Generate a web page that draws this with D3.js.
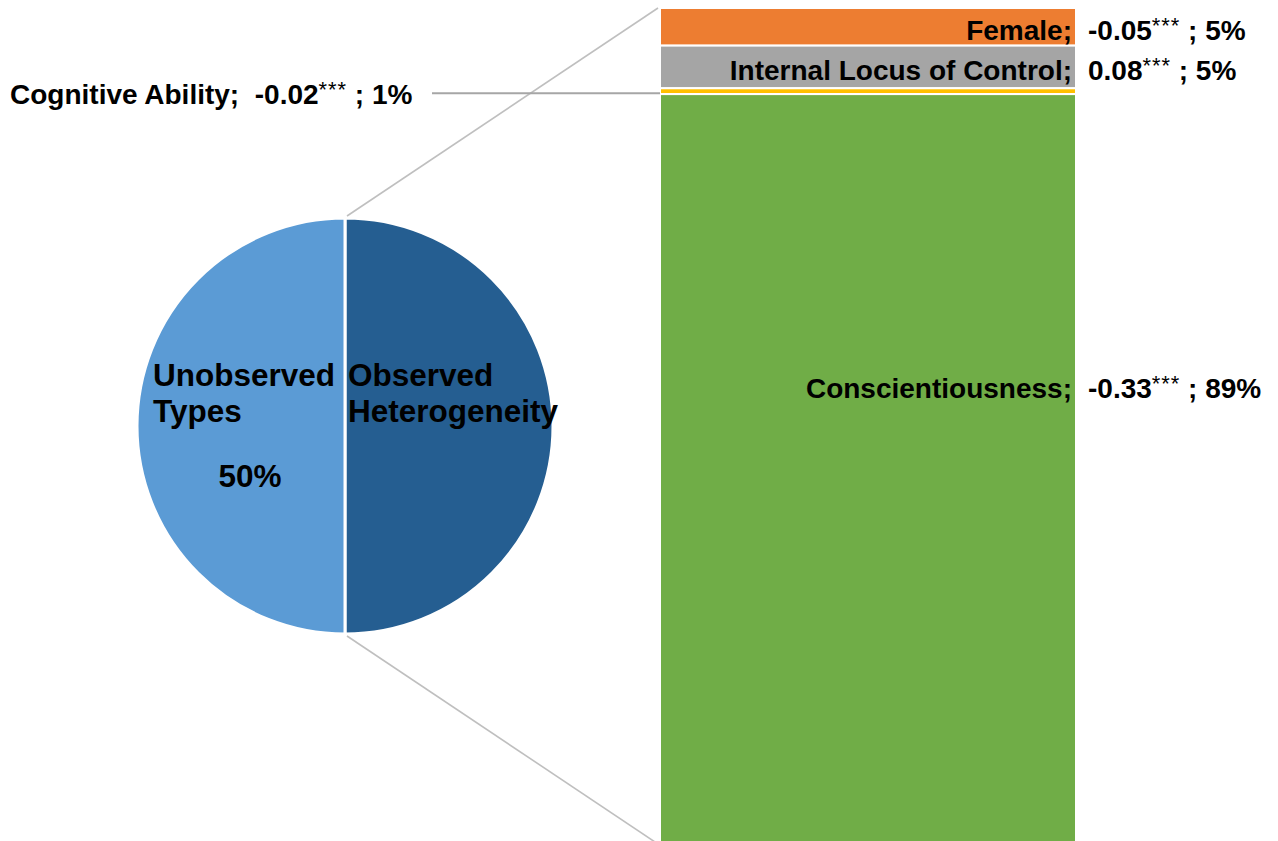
<!DOCTYPE html>
<html>
<head>
<meta charset="utf-8">
<script src="https://cdn.jsdelivr.net/npm/d3@7"></script>
<style>
  html, body { margin: 0; padding: 0; background: #fff; }
  svg { display: block; }
  text { font-family: "Liberation Sans", Arial, sans-serif; font-weight: bold; fill: #000; white-space: pre; }
</style>
</head>
<body>
<svg id="chart" width="1278" height="841"></svg>
<script>
// ---- data ----
const pieCategories = ["Observed Heterogeneity", "Unobserved Types"];
const pieValues = [50, 50];
const pieLabelLines = [["Observed", "Heterogeneity"], ["Unobserved", "Types"]];
const piePercentLabels = ["", "50%"];

const barCategories = ["Female", "Internal Locus of Control", "Cognitive Ability", "Conscientiousness"];
const barShares = [4.5, 5.1, 0.7, 89.7];           // share of observed heterogeneity (bar heights)
const barCoefs = ["-0.05", "0.08", "-0.02", "-0.33"];
const barStars = ["***", "***", "***", "***"];
const barPctLabels = ["5%", "5%", "1%", "89%"];

// ---- style / layout ----
const pieColors = ["#255E91", "#5B9BD5"];
const barColors = ["#ED7D31", "#A5A5A5", "#FFC000", "#70AD47"];
const cx = 345, cy = 426, R = 208;
const barX0 = 660, barX1 = 1076, barTop = 8, barBottom = 844;

const svg = d3.select("#chart");

// ---- pie ----
const pie = d3.pie().sort(null).startAngle(0).endAngle(2 * Math.PI);
const arcs = pie(pieValues);
const arc = d3.arc().innerRadius(0).outerRadius(R);
const gPie = svg.append("g").attr("transform", `translate(${cx},${cy})`);
gPie.selectAll("path").data(arcs).join("path")
  .attr("d", arc)
  .attr("fill", (d, i) => pieColors[i])
  .attr("stroke", "#fff")
  .attr("stroke-width", 3);

// ---- bar scale ----
const y = d3.scaleLinear().domain([0, d3.sum(barShares)]).range([barTop, barBottom]);
const cum = [];
barShares.reduce((acc, v, i) => { cum[i] = acc; return acc + v; }, 0);

// connector lines from pie (top/bottom of split) to bar
const conn = svg.append("g").attr("stroke", "#BFBFBF").attr("stroke-width", 1.6).attr("fill", "none");
conn.append("line").attr("x1", cx + 2).attr("y1", cy - R - 2).attr("x2", barX0 - 2).attr("y2", y(0));
conn.append("line").attr("x1", cx + 2).attr("y1", cy + R + 2).attr("x2", barX0 - 2).attr("y2", y(d3.sum(barShares)));

// bars
svg.append("g").selectAll("rect").data(barShares).join("rect")
  .attr("x", barX0)
  .attr("width", barX1 - barX0)
  .attr("y", (d, i) => y(cum[i]))
  .attr("height", (d, i) => y(cum[i] + d) - y(cum[i]))
  .attr("fill", (d, i) => barColors[i])
  .attr("stroke", "#fff")
  .attr("stroke-width", 2);

// ---- pie labels ----
const fsPie = 31.5;
const tObs = svg.append("text").attr("font-size", fsPie).attr("x", cx + 3).attr("y", cy - 40);
pieLabelLines[0].forEach((s, k) => tObs.append("tspan").attr("x", cx + 3).attr("dy", k === 0 ? 0 : 36).text(s));
const tUn = svg.append("text").attr("font-size", fsPie).attr("x", cx - 192).attr("y", cy - 40);
pieLabelLines[1].forEach((s, k) => tUn.append("tspan").attr("x", cx - 192).attr("dy", k === 0 ? 0 : 36).text(s));
svg.append("text").attr("font-size", fsPie).attr("text-anchor", "middle")
  .attr("x", cx - 95).attr("y", cy + 61).text(piePercentLabels[1]);

// ---- bar labels ----
const fsBar = 28;
function valueText(sel, i) {
  sel.append("tspan").text(barCoefs[i]);
  sel.append("tspan").attr("font-size", fsBar * 0.78).attr("font-weight", "normal")
    .attr("letter-spacing", 1).attr("dy", -6).text(barStars[i]);
  sel.append("tspan").attr("dy", 6).text("\u00A0; " + barPctLabels[i]);
}
barCategories.forEach((c, i) => {
  const yc = y(cum[i] + barShares[i] / 2);
  if (c === "Cognitive Ability") {
    svg.append("line").attr("x1", 432).attr("x2", barX0).attr("y1", yc + 2).attr("y2", yc + 2)
      .attr("stroke", "#A6A6A6").attr("stroke-width", 2);
    const t = svg.append("text").attr("font-size", fsBar).attr("x", 10).attr("y", yc + 6)
      .attr("dominant-baseline", "middle");
    t.append("tspan").text(c + ";\u00A0\u00A0");
    valueText(t, i);
  } else {
    const ly = (c === "Conscientiousness") ? y(cum[i]) + 297 : yc + 6;
    svg.append("text").attr("font-size", fsBar).attr("text-anchor", "end")
      .attr("x", barX1 - 4).attr("y", ly).attr("dominant-baseline", "middle").text(c + ";");
    const t = svg.append("text").attr("font-size", fsBar)
      .attr("x", barX1 + 12).attr("y", ly).attr("dominant-baseline", "middle");
    valueText(t, i);
  }
});
</script>
</body>
</html>
